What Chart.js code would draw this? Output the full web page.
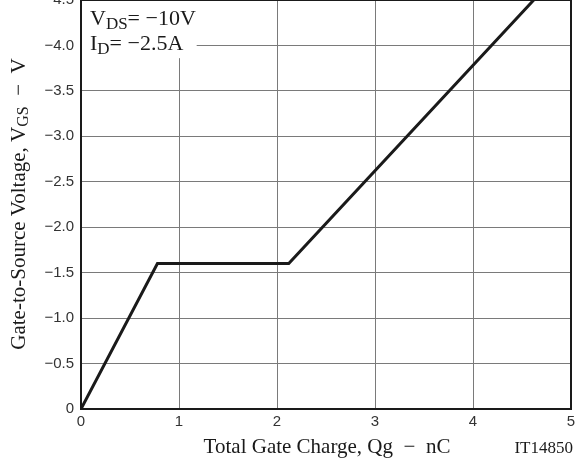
<!DOCTYPE html>
<html>
<head>
<meta charset="utf-8">
<script src="https://cdn.jsdelivr.net/npm/chart.js@4/dist/chart.umd.min.js"></script>
<style>
  html, body { margin: 0; padding: 0; background: #fff; }
  #wrap { position: relative; width: 588px; height: 472px; }
</style>
</head>
<body>
<div id="wrap"><canvas id="chart" width="588" height="472"></canvas></div>
<script>
// Gate charge characteristic: Qg (nC) vs VGS (V)
const gateCharge = [0, 0.78, 2.12, 4.62];
const gateVoltage = [0, -1.6, -1.6, -4.5];

// Axis ticks
const xTicks = [0, 1, 2, 3, 4, 5];
const yTicks = [0, -0.5, -1.0, -1.5, -2.0, -2.5, -3.0, -3.5, -4.0, -4.5];

// Test conditions box: [symbol, subscript, rest]
const conditions = [
  ['V', 'DS', '= \u221210V'],
  ['I', 'D', '= \u22122.5A']
];

const xTitle = [['Total Gate Charge, Qg  \u2212  nC', false]];
const yTitle = [['Gate-to-Source Voltage, V', false], ['GS', true], ['  \u2212  V', false]];
const figureId = 'IT14850';

const SERIF = '"Liberation Serif", "Times New Roman", serif';
const SANS = '"Liberation Sans", Arial, sans-serif';

function fmtY(v) {
  if (v === 0) return '0';
  return '\u2212' + Math.abs(v).toFixed(1);
}

// Draw a run of text pieces, some of them subscripts, starting at x on baseline y
function drawRun(ctx, parts, x, y, size, subSize, subDrop) {
  let cx = x;
  for (const [t, sub] of parts) {
    ctx.font = (sub ? subSize : size) + 'px ' + SERIF;
    ctx.fillText(t, cx, sub ? y + subDrop : y);
    cx += ctx.measureText(t).width;
  }
  return cx - x;
}
function runWidth(ctx, parts, size, subSize) {
  let w = 0;
  for (const [t, sub] of parts) {
    ctx.font = (sub ? subSize : size) + 'px ' + SERIF;
    w += ctx.measureText(t).width;
  }
  return w;
}

const annotations = {
  id: 'annotations',
  afterDatasetsDraw(chart) {
    const ctx = chart.ctx;
    const a = chart.chartArea;
    const xs = chart.scales.x, ys = chart.scales.y;
    ctx.save();

    // conditions box, white background over the grid
    ctx.fillStyle = '#fff';
    ctx.fillRect(a.left + 1, a.top, xs.getPixelForValue(1.17) - a.left, ys.getPixelForValue(-3.86) - a.top);
    ctx.fillStyle = '#1a1a1a';
    ctx.textBaseline = 'alphabetic';
    ctx.textAlign = 'left';
    const bx = a.left + 9;
    conditions.forEach((c, i) => {
      const base = ys.getPixelForValue(-4.23 + i * 0.275);
      drawRun(ctx, [[c[0], false], [c[1], true], [c[2], false]], bx, base, 22, 17, 4);
    });

    // frame
    ctx.strokeStyle = '#1a1a1a';
    ctx.lineWidth = 2;
    ctx.strokeRect(a.left, a.top, a.right - a.left, a.bottom - a.top);

    // x title
    ctx.fillStyle = '#1a1a1a';
    const xw = runWidth(ctx, xTitle, 21, 16);
    drawRun(ctx, xTitle, 327 - xw / 2, 453, 21, 16, 4);

    // figure id
    ctx.font = '17px ' + SERIF;
    ctx.textAlign = 'right';
    ctx.fillText(figureId, a.right + 2, 453);

    // y title (rotated)
    ctx.textAlign = 'left';
    ctx.translate(25, 204);
    ctx.rotate(-Math.PI / 2);
    const yw = runWidth(ctx, yTitle, 21, 16);
    drawRun(ctx, yTitle, -yw / 2, 0, 21, 16, 3);
    ctx.restore();
  }
};

new Chart(document.getElementById('chart'), {
  type: 'line',
  data: {
    datasets: [{
      data: gateCharge.map((q, i) => ({ x: q, y: gateVoltage[i] })),
      borderColor: '#1a1a1a',
      borderWidth: 3,
      pointRadius: 0,
      tension: 0,
      fill: false
    }]
  },
  options: {
    responsive: false,
    animation: false,
    devicePixelRatio: 1,
    layout: { padding: { left: 0, top: 0, right: 17, bottom: 0 } },
    plugins: { legend: { display: false }, tooltip: { enabled: false } },
    scales: {
      x: {
        type: 'linear',
        min: 0, max: 5,
        afterBuildTicks: s => { s.ticks = xTicks.map(v => ({ value: v })); },
        afterFit: s => { s.height = 63; s.paddingLeft = 0; s.paddingRight = 0; },
        ticks: { font: { family: SANS, size: 15 }, color: '#333', padding: 4, maxRotation: 0,
                 callback: v => String(v) },
        grid: { color: '#7a7a7a', lineWidth: 1, drawTicks: false },
        border: { display: false }
      },
      y: {
        type: 'linear',
        reverse: true,
        min: -4.5, max: 0,
        afterBuildTicks: s => { s.ticks = yTicks.map(v => ({ value: v })); },
        afterFit: s => { s.width = 81; s.paddingTop = 0; s.paddingBottom = 0; },
        ticks: { font: { family: SANS, size: 15 }, color: '#333', padding: 7,
                 callback: v => fmtY(v) },
        grid: { color: '#7a7a7a', lineWidth: 1, drawTicks: false },
        border: { display: false }
      }
    }
  },
  plugins: [annotations]
});
</script>
</body>
</html>
